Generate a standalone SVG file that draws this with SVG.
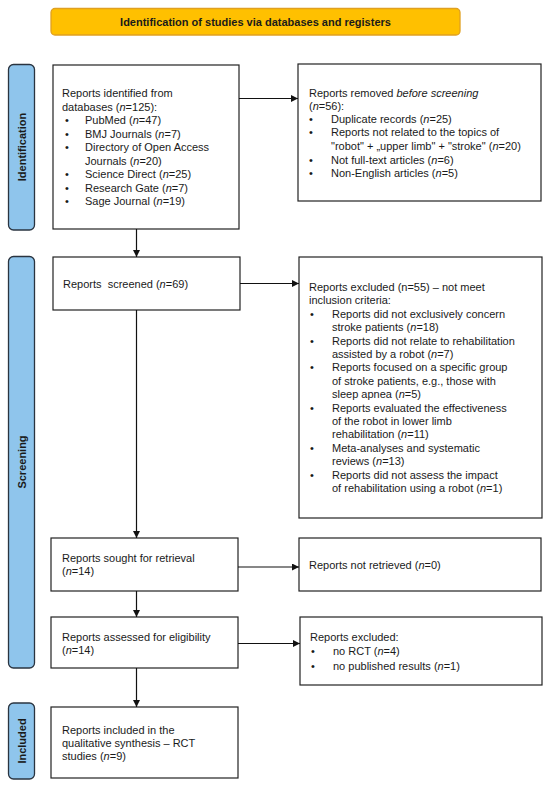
<svg xmlns="http://www.w3.org/2000/svg" width="550" height="788" viewBox="0 0 550 788">
<style>
text{font-family:"Liberation Sans",Arial,sans-serif;font-size:11px;fill:#1a1a1a}
.b{font-weight:bold}
.box{fill:#fff;stroke:#222;stroke-width:1.2}
.side{fill:#8fc5ec;stroke:#2a3440;stroke-width:1.3}
.hdr{fill:#ffc000;stroke:#e0a020;stroke-width:1.3}
.ln{stroke:#111;stroke-width:1.2;fill:none}
</style>
<defs>
<marker id="ah" viewBox="0 0 10 10" refX="10" refY="5" markerWidth="7" markerHeight="7" markerUnits="userSpaceOnUse" orient="auto">
<path d="M0,0 L10,5 L0,10 z" fill="#111"/>
</marker>
</defs>

<g id="header">
<rect class="hdr" x="51" y="8.5" width="409" height="26.5" rx="4"/>
<text class="b" x="255.5" y="26" text-anchor="middle">Identification of studies via databases and registers</text>
</g>

<g id="label-identification">
<rect class="side" x="8.5" y="64.5" width="26" height="165.5" rx="5"/>
<text class="b" transform="translate(25.5,147) rotate(-90)" text-anchor="middle">Identification</text>
</g>
<g id="label-screening">
<rect class="side" x="8.5" y="256.5" width="26" height="411.5" rx="5"/>
<text class="b" transform="translate(25.5,462) rotate(-90)" text-anchor="middle">Screening</text>
</g>
<g id="label-included">
<rect class="side" x="8.5" y="703" width="26" height="76" rx="5"/>
<text class="b" transform="translate(25.5,741) rotate(-90)" text-anchor="middle">Included</text>
</g>

<g id="identified">
<rect class="box" x="53" y="65" width="186" height="164"/>
<text x="62" y="97">Reports identified from</text>
<text x="62" y="110.5">databases (<tspan font-style="italic">n</tspan>=125):</text>
<text x="65" y="124">•</text><text x="85" y="124">PubMed (<tspan font-style="italic">n</tspan>=47)</text>
<text x="65" y="137.5">•</text><text x="85" y="137.5">BMJ Journals (<tspan font-style="italic">n</tspan>=7)</text>
<text x="65" y="151">•</text><text x="85" y="151">Directory of Open Access</text>
<text x="85" y="164.5">Journals (<tspan font-style="italic">n</tspan>=20)</text>
<text x="65" y="178">•</text><text x="85" y="178">Science Direct (<tspan font-style="italic">n</tspan>=25)</text>
<text x="65" y="191.5">•</text><text x="85" y="191.5">Research Gate (<tspan font-style="italic">n</tspan>=7)</text>
<text x="65" y="205">•</text><text x="85" y="205">Sage Journal (<tspan font-style="italic">n</tspan>=19)</text>
</g>

<g id="removed">
<rect class="box" x="298" y="64" width="243" height="137"/>
<text x="309" y="96.5">Reports removed <tspan font-style="italic">before screening</tspan></text>
<text x="309" y="109.5">(<tspan font-style="italic">n</tspan>=56):</text>
<text x="309" y="122.5">•</text><text x="331" y="122.5">Duplicate records (<tspan font-style="italic">n</tspan>=25)</text>
<text x="309" y="136">•</text><text x="331" y="136">Reports not related to the topics of</text>
<text x="331" y="149.5">"robot" + „upper limb" + "stroke" (<tspan font-style="italic">n</tspan>=20)</text>
<text x="309" y="163.5">•</text><text x="331" y="163.5">Not full-text articles (<tspan font-style="italic">n</tspan>=6)</text>
<text x="309" y="177">•</text><text x="331" y="177">Non-English articles (<tspan font-style="italic">n</tspan>=5)</text>
</g>

<g id="screened">
<rect class="box" x="53" y="257" width="187" height="53"/>
<text x="63" y="288" xml:space="preserve">Reports  screened (<tspan font-style="italic">n</tspan>=69)</text>
</g>

<g id="excluded1">
<rect class="box" x="299" y="257" width="243" height="261"/>
<text x="309" y="291">Reports excluded (n=55) – not meet</text>
<text x="309" y="304.4">inclusion criteria:</text>
<text x="310" y="317.8">•</text><text x="332" y="317.8">Reports did not exclusively concern</text>
<text x="332" y="331.2">stroke patients (<tspan font-style="italic">n</tspan>=18)</text>
<text x="310" y="344.6">•</text><text x="332" y="344.6">Reports did not relate to rehabilitation</text>
<text x="332" y="358">assisted by a robot (<tspan font-style="italic">n</tspan>=7)</text>
<text x="310" y="371.4">•</text><text x="332" y="371.4">Reports focused on a specific group</text>
<text x="332" y="384.8">of stroke patients, e.g., those with</text>
<text x="332" y="398.2">sleep apnea (<tspan font-style="italic">n</tspan>=5)</text>
<text x="310" y="411.6">•</text><text x="332" y="411.6">Reports evaluated the effectiveness</text>
<text x="332" y="425">of the robot in lower limb</text>
<text x="332" y="438.4">rehabilitation (<tspan font-style="italic">n</tspan>=11)</text>
<text x="310" y="451.8">•</text><text x="332" y="451.8">Meta-analyses and systematic</text>
<text x="332" y="465.2">reviews (<tspan font-style="italic">n</tspan>=13)</text>
<text x="310" y="478.6">•</text><text x="332" y="478.6">Reports did not assess the impact</text>
<text x="332" y="492">of rehabilitation using a robot (<tspan font-style="italic">n</tspan>=1)</text>
</g>

<g id="sought">
<rect class="box" x="51" y="538" width="187" height="53"/>
<text x="62" y="562">Reports sought for retrieval</text>
<text x="62" y="575">(<tspan font-style="italic">n</tspan>=14)</text>
</g>

<g id="notretrieved">
<rect class="box" x="299" y="538" width="242" height="53"/>
<text x="309" y="569">Reports not retrieved (<tspan font-style="italic">n</tspan>=0)</text>
</g>

<g id="assessed">
<rect class="box" x="51" y="617" width="187" height="51"/>
<text x="62" y="640.5">Reports assessed for eligibility</text>
<text x="62" y="653.5">(<tspan font-style="italic">n</tspan>=14)</text>
</g>

<g id="excluded2">
<rect class="box" x="300" y="617" width="242" height="68"/>
<text x="310" y="641">Reports excluded:</text>
<text x="311" y="655">•</text><text x="333" y="655">no RCT (<tspan font-style="italic">n</tspan>=4)</text>
<text x="311" y="669.5">•</text><text x="333" y="669.5">no published results (<tspan font-style="italic">n</tspan>=1)</text>
</g>

<g id="included">
<rect class="box" x="51" y="707" width="187" height="71"/>
<text x="62" y="734">Reports included in the</text>
<text x="62" y="747">qualitative synthesis – RCT</text>
<text x="62" y="760">studies (<tspan font-style="italic">n</tspan>=9)</text>
</g>

<g id="connectors">
<line class="ln" x1="239" y1="98.5" x2="298" y2="98.5" marker-end="url(#ah)"/>
<line class="ln" x1="136.5" y1="229" x2="136.5" y2="257" marker-end="url(#ah)"/>
<line class="ln" x1="240" y1="283.5" x2="299" y2="283.5" marker-end="url(#ah)"/>
<line class="ln" x1="136.5" y1="310" x2="136.5" y2="538" marker-end="url(#ah)"/>
<line class="ln" x1="238" y1="567" x2="299" y2="567" marker-end="url(#ah)"/>
<line class="ln" x1="136.5" y1="591" x2="136.5" y2="617" marker-end="url(#ah)"/>
<line class="ln" x1="238" y1="643.5" x2="300" y2="643.5" marker-end="url(#ah)"/>
<line class="ln" x1="136.5" y1="668" x2="136.5" y2="707" marker-end="url(#ah)"/>
</g>
</svg>
